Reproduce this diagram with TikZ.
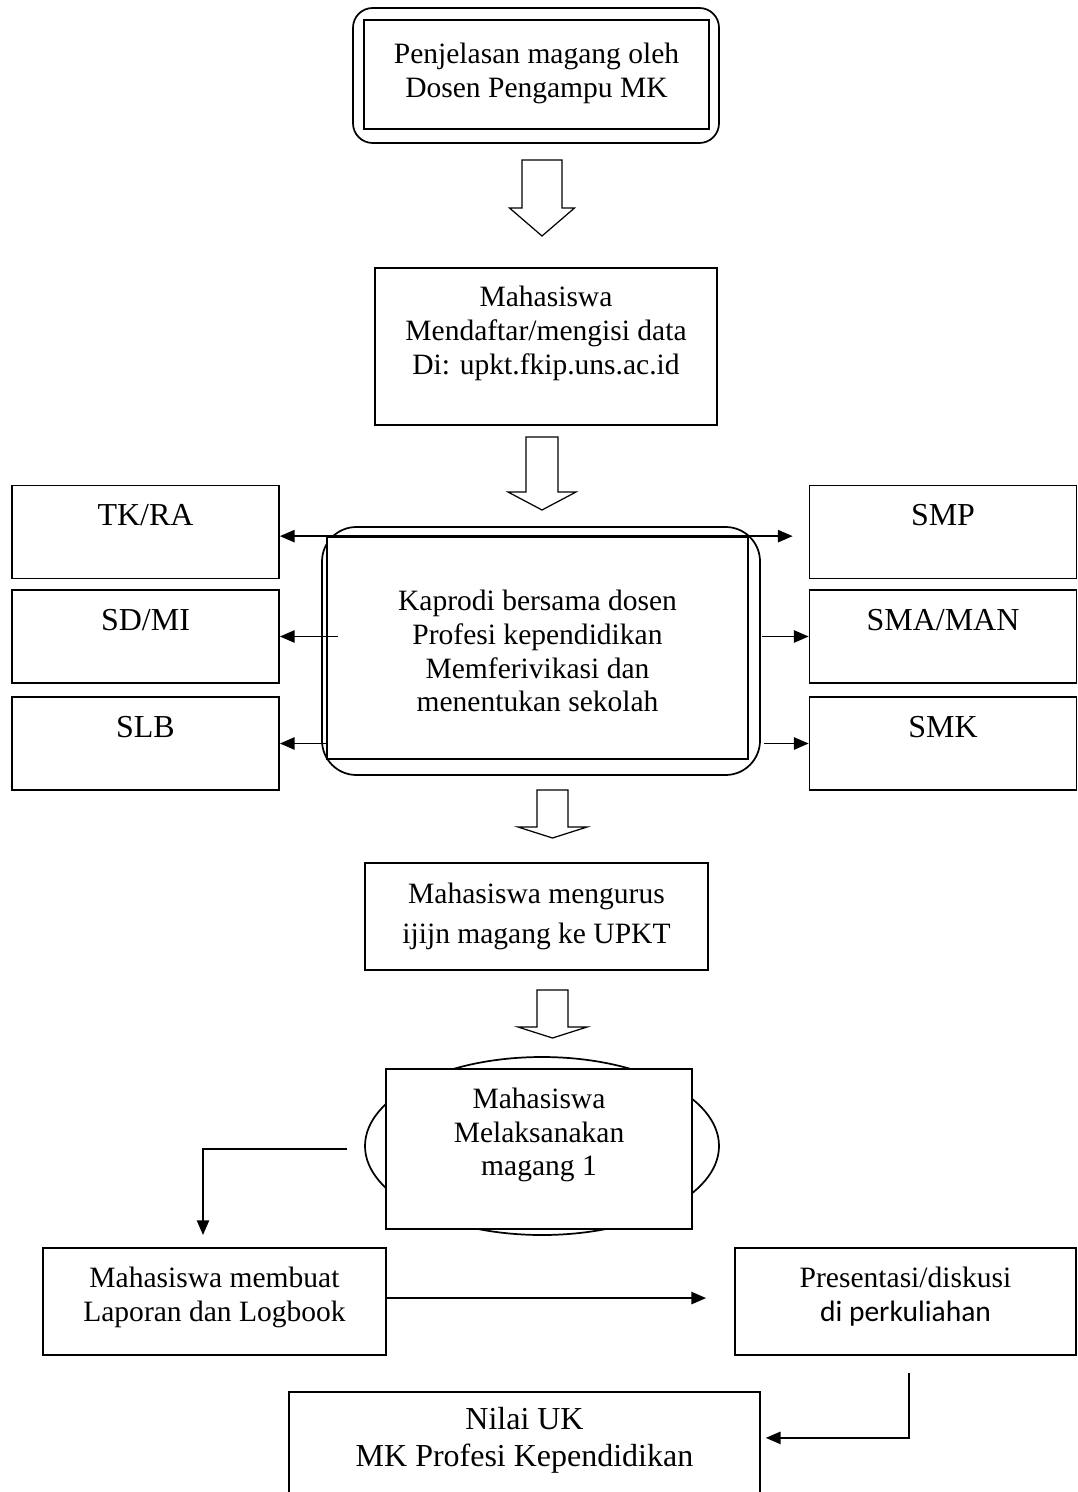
\documentclass[tikz,border=0pt]{standalone}
\usepackage{fontspec}
\setmainfont{Liberation Serif}
\newfontfamily\calibri{Carlito}
\usepackage{tikz}
\usetikzlibrary{arrows.meta}
\usetikzlibrary{shapes.geometric}

\tikzset{
  kotak/.style={draw, fill=white, line width=0.7pt, inner sep=0pt},
  bingkai/.style={draw, line width=0.7pt, inner sep=0pt},
  ukuran/.style 2 args={minimum width=#1*0.4065pt, minimum height=#2*0.4065pt},
  isi/.style={align=center, font=\fontsize{12}{13.8}\selectfont},
  isibesar/.style={align=center, font=\fontsize{13}{15}\selectfont},
  panah/.style={line width=0.7pt, >={Triangle[length=6pt,width=5pt]}}
}

\begin{document}
\begin{tikzpicture}[x=0.4065pt, y=-0.4065pt]
  \useasboundingbox (0,0) rectangle (1077,1492);
  \clip (0,0) rectangle (1077,1492);

  % Bingkai luar
  \node[bingkai, rounded corners=8pt, ukuran={366}{135}] (luar1) at (536,75.5) {};
  \node[bingkai, rounded corners=14pt, ukuran={438}{248}] (luar2) at (541,651) {};
  \node[bingkai, ellipse, ukuran={354}{178}] (elips) at (542,1146) {};

  % Kotak alur utama
  \node[kotak, ukuran={345}{109}, label={[isi, yshift=0.6pt]center:{Penjelasan magang oleh\\Dosen Pengampu MK}}] (jelas) at (536.5,74.5) {};
  \node[kotak, ukuran={342}{157}, label={[isi, yshift=5.5pt]center:{Mahasiswa\\Mendaftar/mengisi data\\Di: upkt.fkip.uns.ac.id}}] (daftar) at (546,346.5) {};
  \node[kotak, ukuran={421}{222}, label={[isi, yshift=-1.2pt]center:{Kaprodi bersama dosen\\Profesi kependidikan\\Memferivikasi dan\\menentukan sekolah}}] (kaprodi) at (537.5,648) {};
  \node[kotak, ukuran={343}{107}, label={[isi, font=\fontsize{12}{16.4}\selectfont]center:{Mahasiswa mengurus\\ijijn magang ke UPKT}}] (urus) at (536.5,916.5) {};
  \node[kotak, ukuran={306}{160}, label={[isi, yshift=5.7pt]center:{Mahasiswa\\Melaksanakan\\magang 1}}] (laksana) at (539,1149) {};
  \node[kotak, ukuran={343}{107}, label={[isi, yshift=1.8pt]center:{Mahasiswa membuat\\Laporan dan Logbook}}] (membuat) at (214.5,1301.5) {};
  \node[kotak, ukuran={341}{107}, label={[isi, yshift=1.8pt]center:{Presentasi/diskusi\\{\calibri di perkuliahan}}}] (presentasi) at (905.5,1301.5) {};
  \node[kotak, ukuran={471}{108}, label={[isibesar, yshift=2.4pt]center:{Nilai UK\\MK Profesi Kependidikan}}] (nilai) at (524.5,1446) {};

  % Jenjang sekolah
  \foreach \nama/\teks/\cx/\cy in {tkra/{TK/RA}/145.5/532, sdmi/{SD/MI}/145.5/636.5, slb/SLB/145.5/743.5,
                                   smp/SMP/943/532, smaman/{SMA/MAN}/943/636.5, smk/SMK/943/743.5}
    \node[kotak, ukuran={267}{93}, label={[isibesar, yshift=6.7pt]center:\teks}] (\nama) at (\cx,\cy) {};

  % Panah blok
  \foreach \cx/\ya/\yb/\yc/\sw/\hw in {542/160/208/236/20/32.5, 542/437/492/510/16/34,
                                      552.5/790/827/838/15.5/34.5, 552.5/990/1027/1038/15.5/34.5}
    \draw[line width=0.5pt] (\cx-\sw,\ya) -- (\cx+\sw,\ya) -- (\cx+\sw,\yb) -- (\cx+\hw,\yb)
      -- (\cx,\yc) -- (\cx-\hw,\yb) -- (\cx-\sw,\yb) -- cycle;

  % Panah ke jenjang sekolah
  \coordinate (k2) at (338,636.5);
  \coordinate (k3) at (326,743.5);
  \coordinate (n2) at (762,636.5);
  \coordinate (n3) at (764,743.5);
  \draw[panah, <->, shorten >=6.5pt] (kaprodi.north -| tkra.east) -- (kaprodi.north -| smp.west);
  \draw[panah, ->] (k2) -- (sdmi.east);
  \draw[panah, ->] (k3) -- (slb.east);
  \draw[panah, ->] (n2) -- (smaman.west);
  \draw[panah, ->] (n3) -- (smk.west);

  % Alur bawah
  \coordinate (belok) at (347,1149);
  \coordinate (turun) at (203,1235);
  \coordinate (naik) at (909,1373);
  \draw[panah, ->] (belok) -| (turun);
  \draw[panah, ->, shorten >=11.4pt] ([yshift=1.4pt]membuat.east) -- ([yshift=1.4pt]presentasi.west);
  \draw[panah, ->, shorten >=2pt] (naik) |- ([yshift=3.3pt]nilai.east);

\end{tikzpicture}
\end{document}
